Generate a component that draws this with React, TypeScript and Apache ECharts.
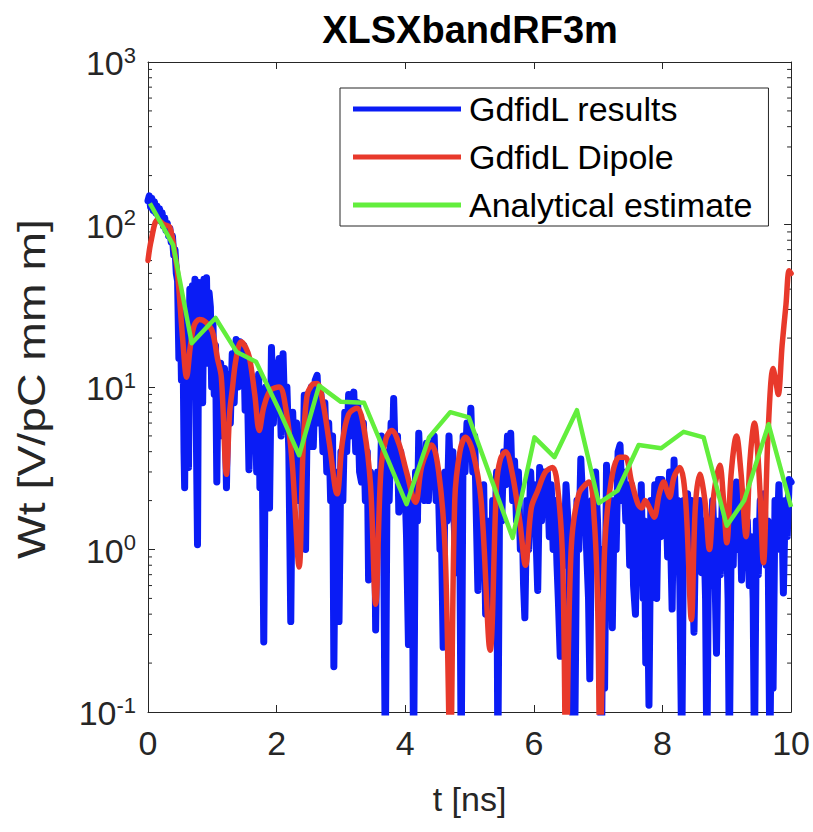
import React, { useEffect, useRef } from "react";
import * as echarts from "echarts";

const chartTitle = "XLSXbandRF3m";
const xAxisName = "t [ns]";
const yAxisName = "Wt [V/pC mm m]";
const seriesNames = ["GdfidL results", "GdfidL Dipole", "Analytical estimate"];
const yMin = 0.1;
const yMax = 1000;
const minorTickValues = [
  0.2, 0.3, 0.4, 0.5, 0.6, 0.7, 0.8, 0.9,
  2, 3, 4, 5, 6, 7, 8, 9,
  20, 30, 40, 50, 60, 70, 80, 90,
  200, 300, 400, 500, 600, 700, 800, 900,
];

const gdfidlResults: [number, number][] = [
  [0.0, 140], [0.02, 150], [0.04, 128], [0.06, 145], [0.08, 122], [0.1, 138], [0.12, 118], [0.14, 130],
  [0.16, 112], [0.18, 125], [0.2, 105], [0.22, 118], [0.24, 98], [0.26, 110], [0.28, 92], [0.3, 102],
  [0.32, 85], [0.34, 95], [0.36, 78], [0.38, 85], [0.4, 65], [0.42, 70], [0.44, 50], [0.46, 45],
  [0.48, 15], [0.5, 35], [0.52, 11], [0.54, 30], [0.56, 4], [0.57, 2.4], [0.59, 28], [0.61, 8],
  [0.63, 3.2], [0.65, 40], [0.67, 12], [0.69, 42], [0.71, 15], [0.73, 46], [0.75, 6], [0.77, 1.07],
  [0.79, 44], [0.81, 12], [0.83, 40], [0.85, 8], [0.87, 46], [0.89, 18], [0.91, 47], [0.93, 14],
  [0.95, 38], [0.97, 31], [0.99, 10], [1.01, 25], [1.03, 9], [1.05, 18], [1.07, 2.6], [1.09, 12],
  [1.11, 6], [1.13, 14], [1.16, 5], [1.19, 13], [1.22, 2.4], [1.25, 12], [1.28, 6], [1.31, 16],
  [1.34, 8], [1.37, 19.6], [1.4, 10], [1.43, 19], [1.46, 12], [1.49, 18], [1.51, 7.2], [1.54, 14],
  [1.57, 3.1], [1.6, 12], [1.63, 5], [1.66, 11], [1.69, 3], [1.72, 12], [1.74, 2.4], [1.77, 9],
  [1.8, 0.27], [1.83, 10], [1.86, 4], [1.89, 1.8], [1.92, 17.5], [1.95, 6], [1.98, 14], [2.01, 8],
  [2.04, 15], [2.07, 5], [2.1, 16], [2.13, 6], [2.16, 10], [2.19, 4], [2.22, 0.36], [2.25, 7],
  [2.28, 3], [2.31, 6], [2.34, 2], [2.37, 5], [2.4, 1.5], [2.43, 8.9], [2.45, 1.0], [2.48, 9],
  [2.51, 4.3], [2.54, 10], [2.57, 4.3], [2.6, 11], [2.63, 11.8], [2.66, 6], [2.69, 9], [2.72, 4],
  [2.75, 8], [2.78, 3], [2.81, 6], [2.84, 2], [2.87, 5], [2.89, 0.19], [2.92, 3], [2.95, 1],
  [2.97, 0.36], [3.0, 4], [3.03, 2], [3.06, 7], [3.09, 4], [3.12, 9], [3.15, 5], [3.18, 8],
  [3.2, 9.3], [3.23, 4], [3.26, 8], [3.29, 3], [3.32, 2.6], [3.35, 6], [3.38, 2], [3.41, 4],
  [3.43, 0.65], [3.46, 3], [3.49, 1.2], [3.52, 2.5], [3.54, 0.32], [3.57, 3], [3.6, 1.5], [3.63, 5],
  [3.66, 2], [3.69, 0.05], [3.72, 4], [3.75, 2], [3.78, 6], [3.8, 4], [3.82, 8.5], [3.85, 3],
  [3.88, 5], [3.9, 1.7], [3.93, 4], [3.96, 2], [3.99, 3], [4.02, 1.2], [4.05, 0.26], [4.08, 2.5],
  [4.11, 1], [4.13, 0.05], [4.16, 3], [4.19, 1.5], [4.21, 5.2], [4.24, 2.5], [4.27, 4], [4.3, 2],
  [4.33, 4.5], [4.36, 2], [4.39, 4.5], [4.42, 2.5], [4.45, 5], [4.48, 2], [4.51, 3], [4.54, 1],
  [4.56, 1.5], [4.59, 0.25], [4.62, 3], [4.65, 1.5], [4.68, 5], [4.71, 2.5], [4.74, 4], [4.76, 1.5],
  [4.79, 0.72], [4.82, 3], [4.85, 1], [4.87, 0.05], [4.9, 5], [4.93, 3], [4.96, 6], [4.99, 4],
  [5.02, 7.4], [5.05, 3], [5.08, 5], [5.1, 2], [5.13, 0.56], [5.16, 2], [5.19, 1], [5.22, 2.5],
  [5.25, 0.4], [5.28, 1.5], [5.31, 0.6], [5.33, 0.3], [5.36, 2], [5.39, 1], [5.42, 3], [5.44, 0.05],
  [5.47, 3], [5.5, 1.5], [5.53, 4], [5.56, 2.5], [5.59, 5], [5.62, 3], [5.64, 5.2], [5.67, 2],
  [5.7, 3.5], [5.73, 1.5], [5.76, 3], [5.79, 1], [5.82, 1.5], [5.84, 0.6], [5.86, 0.38], [5.89, 2],
  [5.92, 1], [5.95, 3], [5.98, 1.5], [6.01, 2.5], [6.04, 1], [6.06, 0.56], [6.09, 3.2], [6.12, 1.5],
  [6.15, 3], [6.18, 2], [6.21, 3], [6.24, 1.2], [6.27, 2.5], [6.3, 1], [6.33, 2], [6.36, 0.8],
  [6.38, 0.5], [6.41, 0.22], [6.44, 1.5], [6.47, 0.8], [6.5, 2.5], [6.53, 1.5], [6.56, 0.4], [6.59, 1],
  [6.61, 0.05], [6.64, 0.1], [6.67, 2], [6.7, 1], [6.73, 3.6], [6.76, 2], [6.79, 2.5], [6.82, 1],
  [6.85, 0.5], [6.87, 0.16], [6.9, 2], [6.93, 1], [6.96, 3], [6.99, 1.5], [7.02, 0.5], [7.05, 0.05],
  [7.08, 1], [7.1, 0.14], [7.13, 3.3], [7.16, 1], [7.19, 2], [7.22, 0.33], [7.25, 2], [7.28, 1],
  [7.31, 4], [7.34, 4.4], [7.37, 2], [7.4, 3], [7.43, 1.5], [7.46, 2.5], [7.49, 0.8], [7.52, 2.5],
  [7.55, 0.6], [7.58, 0.4], [7.61, 2], [7.64, 0.8], [7.67, 2.5], [7.7, 0.5], [7.72, 1.5], [7.74, 0.2],
  [7.77, 0.5], [7.79, 0.11], [7.82, 2], [7.85, 0.7], [7.88, 2.5], [7.91, 0.5], [7.94, 2.7], [7.97, 1.2],
  [7.99, 2.7], [8.02, 1.3], [8.05, 2.5], [8.08, 0.9], [8.11, 3], [8.13, 1], [8.15, 0.43], [8.18, 3.55],
  [8.21, 1.5], [8.24, 2], [8.27, 0.6], [8.3, 0.05], [8.33, 2], [8.36, 0.8], [8.39, 2.2], [8.42, 1],
  [8.45, 2], [8.47, 0.7], [8.49, 0.31], [8.52, 1.8], [8.55, 0.8], [8.58, 2], [8.61, 0.72], [8.64, 1.5],
  [8.67, 0.5], [8.69, 0.05], [8.72, 1.5], [8.75, 0.6], [8.78, 2], [8.81, 1], [8.84, 0.23], [8.87, 1.5],
  [8.9, 0.7], [8.93, 2], [8.96, 0.9], [8.99, 1.8], [9.02, 0.5], [9.04, 0.05], [9.07, 1.5], [9.1, 0.8],
  [9.12, 2.2], [9.15, 2.6], [9.18, 1], [9.21, 1.5], [9.23, 0.65], [9.26, 2], [9.29, 0.9], [9.32, 1.5],
  [9.35, 0.6], [9.38, 1.2], [9.41, 0.5], [9.43, 0.05], [9.46, 1.5], [9.49, 0.7], [9.52, 2], [9.55, 1],
  [9.58, 2.2], [9.61, 0.8], [9.64, 1.5], [9.67, 0.05], [9.7, 1], [9.72, 0.14], [9.75, 2], [9.78, 1],
  [9.81, 2.5], [9.84, 1.2], [9.86, 1.5], [9.88, 0.54], [9.91, 2], [9.94, 1.2], [9.97, 2.7], [10.0, 2.6],
];

const gdfidlDipole: [number, number][] = [
  [0, 60], [0.05, 80], [0.15, 107], [0.25, 100], [0.34, 96], [0.42, 65], [0.46, 50], [0.54, 19.6],
  [0.6, 11.5], [0.66, 18], [0.72, 24], [0.8, 26], [0.9, 25], [1.0, 22], [1.08, 15], [1.14, 11.5],
  [1.22, 2.9], [1.27, 7], [1.31, 9.6], [1.37, 15], [1.45, 19], [1.52, 17.5], [1.58, 15], [1.66, 9],
  [1.73, 5.4], [1.8, 7.5], [1.9, 9.5], [2.04, 10], [2.14, 7.5], [2.24, 3.5], [2.35, 0.78], [2.41, 4],
  [2.47, 8.7], [2.55, 10.3], [2.63, 10.5], [2.72, 8], [2.82, 4.5], [2.94, 2.2], [3.02, 4.5], [3.12, 6.8],
  [3.25, 7.4], [3.36, 5.5], [3.46, 2.5], [3.54, 0.46], [3.62, 3], [3.7, 4.8], [3.79, 5.4], [3.9, 4.5],
  [4.02, 3], [4.16, 1.95], [4.26, 3.3], [4.41, 4.4], [4.52, 3], [4.62, 1], [4.7, 0.05], [4.77, 2],
  [4.85, 4], [4.94, 4.9], [5.05, 4], [5.18, 2], [5.32, 0.24], [5.42, 2.5], [5.48, 3.6], [5.56, 4.0],
  [5.66, 3], [5.78, 1.5], [5.87, 0.8], [5.96, 1.8], [6.06, 2.3], [6.18, 3], [6.29, 3.2], [6.38, 2.2],
  [6.45, 0.8], [6.5, 0.05], [6.58, 1], [6.7, 2.2], [6.86, 2.6], [6.94, 1.5], [6.99, 0.5], [7.03, 0.05],
  [7.1, 1], [7.2, 2.6], [7.33, 3.7], [7.42, 3.7], [7.52, 2.6], [7.62, 1.9], [7.68, 1.8], [7.73, 2.0],
  [7.8, 1.8], [7.87, 1.58], [7.95, 2.2], [8.02, 2.6], [8.07, 2.3], [8.11, 2.1], [8.18, 2.8], [8.27, 3.2],
  [8.36, 2.0], [8.45, 0.37], [8.51, 1.8], [8.58, 2.9], [8.66, 2.0], [8.73, 1.0], [8.8, 2.2], [8.89, 3.3],
  [8.95, 2.0], [9.0, 1.1], [9.07, 3], [9.15, 5.0], [9.22, 3], [9.3, 1.2], [9.36, 3.5], [9.43, 6.0],
  [9.5, 3], [9.57, 0.83], [9.64, 5], [9.72, 13], [9.76, 11], [9.8, 9], [9.86, 18], [9.92, 32],
  [9.97, 52], [10.0, 50],
];

const analyticalEstimate: [number, number][] = [
  [0.03, 135], [0.39, 75], [0.68, 18.6], [1.05, 26.6], [1.38, 16.4], [1.68, 14.3], [2.04, 7.2],
  [2.35, 3.8], [2.66, 10.2], [3.0, 8.1], [3.36, 8.0], [4.02, 1.9], [4.37, 4.9], [4.7, 7.0],
  [4.99, 6.5], [5.67, 1.18], [6.01, 4.9], [6.32, 3.7], [6.67, 7.2], [7.01, 1.93], [7.3, 2.3],
  [7.63, 4.4], [7.98, 4.2], [8.33, 5.3], [8.64, 4.9], [9.0, 1.4], [9.27, 2.0], [9.65, 5.9],
  [10.0, 1.83],
];

const FONT = "'Liberation Sans', Arial, Helvetica, sans-serif";
const AXIS_COLOR = "#262626";

export default function App() {
  const ref = useRef<HTMLDivElement>(null);

  useEffect(() => {
    if (!ref.current) return;
    const chart = echarts.init(ref.current, undefined, { renderer: "svg" });

    const supLabel = (v: number) => {
      const e = Math.round(Math.log10(v));
      return `{b|10}{s|${e}}`;
    };

    const option: any = {
      animation: false,
      backgroundColor: "#ffffff",
      textStyle: { fontFamily: FONT },
      grid: { left: 148, right: 18, top: 62, bottom: 120, containLabel: false },
      graphic: [
        {
          type: "text",
          x: 470,
          y: 30,
          style: {
            text: chartTitle,
            font: `bold 38px ${FONT}`,
            fill: "#000",
            textAlign: "center",
            textVerticalAlign: "middle",
            align: "center",
            verticalAlign: "middle",
          },
        },
        {
          type: "text",
          x: 32,
          y: 389,
          rotation: Math.PI / 2,
          scaleX: 1.22,
          style: {
            text: yAxisName,
            font: `38px ${FONT}`,
            fill: AXIS_COLOR,
            textAlign: "center",
            textVerticalAlign: "middle",
            align: "center",
            verticalAlign: "middle",
          },
        },
      ],
      legend: {
        data: seriesNames,
        orient: "vertical",
        left: 340,
        top: 88,
        icon: "rect",
        itemWidth: 108,
        itemHeight: 5,
        itemGap: 14,
        padding: [4, 16, 4, 13],
        borderColor: AXIS_COLOR,
        borderWidth: 1,
        backgroundColor: "#ffffff",
        textStyle: { fontSize: 34, lineHeight: 31, color: "#000", fontFamily: FONT, padding: [0, 0, 0, 3] },
        selectedMode: false,
      },
      xAxis: [
        {
          type: "value",
          min: 0,
          max: 10,
          interval: 2,
          name: xAxisName,
          nameLocation: "middle",
          nameGap: 70,
          nameTextStyle: { fontSize: 34, color: AXIS_COLOR, fontFamily: FONT },
          axisLine: { show: true, onZero: false, lineStyle: { color: AXIS_COLOR, width: 1 } },
          axisTick: { show: true, inside: true, length: 7, lineStyle: { color: AXIS_COLOR } },
          axisLabel: { fontSize: 34, color: AXIS_COLOR, margin: 14, fontFamily: FONT },
          splitLine: { show: false },
        },
        {
          type: "value",
          position: "top",
          min: 0,
          max: 10,
          interval: 2,
          axisLine: { show: true, onZero: false, lineStyle: { color: AXIS_COLOR, width: 1 } },
          axisTick: { show: true, inside: true, length: 7, lineStyle: { color: AXIS_COLOR } },
          axisLabel: { show: false },
          splitLine: { show: false },
        },
      ],
      yAxis: [
        {
          type: "log",
          logBase: 10,
          min: yMin,
          max: yMax,
          splitNumber: 4,
          axisLine: { show: true, onZero: false, lineStyle: { color: AXIS_COLOR, width: 1 } },
          axisTick: { show: true, inside: true, length: 7, lineStyle: { color: AXIS_COLOR } },
          axisLabel: {
            formatter: supLabel,
            margin: 12,
            color: AXIS_COLOR,
            rich: {
              b: { fontSize: 34, color: AXIS_COLOR, fontFamily: FONT, lineHeight: 36, verticalAlign: "bottom" },
              s: { fontSize: 22, color: AXIS_COLOR, fontFamily: FONT, lineHeight: 22, verticalAlign: "top", padding: [0, 0, 16, 0] },
            },
          },
          splitLine: { show: false },
        },
        {
          type: "log",
          logBase: 10,
          min: yMin,
          max: yMax,
          splitNumber: 4,
          position: "right",
          axisLine: { show: true, onZero: false, lineStyle: { color: AXIS_COLOR, width: 1 } },
          axisTick: { show: true, inside: true, length: 7, lineStyle: { color: AXIS_COLOR } },
          axisLabel: { show: false },
          splitLine: { show: false },
        },
      ],
      series: [
        {
          type: "custom",
          name: "minorTicks",
          silent: true,
          xAxisIndex: 0,
          yAxisIndex: 0,
          z: 1,
          data: minorTickValues.map((v) => [0, v]),
          encode: { x: 0, y: 1 },
          renderItem: (_params: any, api: any) => {
            const v = api.value(1);
            const l = api.coord([0, v]);
            const r = api.coord([10, v]);
            return {
              type: "group",
              children: [
                { type: "line", shape: { x1: l[0], y1: l[1], x2: l[0] + 4, y2: l[1] }, style: { stroke: AXIS_COLOR, lineWidth: 1 } },
                { type: "line", shape: { x1: r[0], y1: r[1], x2: r[0] - 4, y2: r[1] }, style: { stroke: AXIS_COLOR, lineWidth: 1 } },
              ],
            };
          },
        },
        {
          type: "line",
          name: seriesNames[0],
          data: gdfidlResults,
          showSymbol: false,
          symbol: "none",
          clip: true,
          color: "#0a1cf5",
          lineStyle: { width: 7, color: "#0a1cf5", join: "round", cap: "round" },
          z: 2,
        },
        {
          type: "line",
          name: seriesNames[1],
          data: gdfidlDipole,
          showSymbol: false,
          symbol: "none",
          smooth: 0.35,
          clip: true,
          color: "#e8392b",
          lineStyle: { width: 5.5, color: "#e8392b", join: "round", cap: "round" },
          z: 3,
        },
        {
          type: "line",
          name: seriesNames[2],
          data: analyticalEstimate,
          showSymbol: false,
          symbol: "none",
          clip: true,
          color: "#62ee3c",
          lineStyle: { width: 4.5, color: "#62ee3c", join: "round" },
          z: 4,
        },
      ],
    };

    chart.setOption(option);
    return () => chart.dispose();
  }, []);

  return (
    <div
      ref={ref}
      style={{ position: "absolute", left: 0, top: 0, width: 813, height: 832, background: "#fff" }}
    />
  );
}
